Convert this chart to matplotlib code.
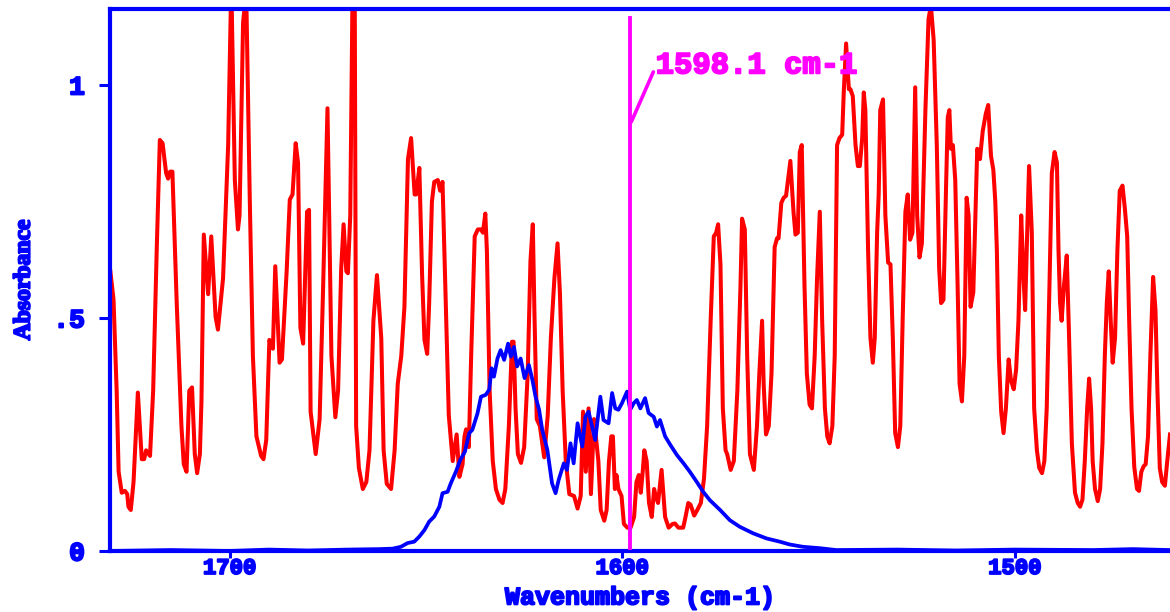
import matplotlib
matplotlib.use('Agg')
import matplotlib.pyplot as plt
import matplotlib.patheffects as pe

# ============================================================
# Style
# ============================================================
plt.rcParams.update({
    'font.family': 'Liberation Mono',
    'font.weight': 'bold',
    'axes.linewidth': 3.0,
})

COR_EIXO = '#0000ff'
COR_AGUA = '#ff0000'
COR_BANDA = '#0000ff'
COR_CURSOR = '#ff00ff'

# ============================================================
# Data (wavenumber in cm-1, absorbance)
# ============================================================
agua_wn = [
    1730.4, 1729.6, 1728.8, 1728.3, 1727.5, 1726.7, 1726.1, 1725.8, 1725.2, 1724.5,
    1723.4, 1722.4, 1721.8, 1721.3, 1720.3, 1719.5, 1718.6, 1717.8, 1717.1, 1716.2,
    1715.7, 1715.2, 1714.6, 1713.5, 1712.3, 1711.7, 1711.0, 1710.3, 1709.6, 1708.9,
    1708.3, 1707.6, 1707.2, 1706.6, 1705.5, 1704.7, 1703.6, 1703.0, 1701.7, 1700.4,
    1699.6, 1698.7, 1697.9, 1697.5, 1696.6, 1695.8, 1694.9, 1694.1, 1693.2, 1692.0,
    1691.4, 1690.7, 1689.9, 1689.0, 1688.4, 1687.3, 1686.7, 1685.5, 1684.7, 1684.0,
    1683.2, 1682.6, 1682.0, 1681.3, 1680.6, 1680.3, 1679.8, 1679.4, 1678.1, 1677.1,
    1676.2, 1675.1, 1674.1, 1673.1, 1672.4, 1671.6, 1671.0, 1670.3, 1669.9, 1669.3,
    1668.6, 1668.2, 1667.8, 1667.1, 1666.1, 1665.2, 1664.4, 1663.4, 1662.5, 1661.4,
    1660.8, 1660.0, 1658.9, 1658.0, 1657.2, 1656.3, 1655.5, 1654.6, 1653.8, 1652.9,
    1652.5, 1651.7, 1651.0, 1650.4, 1649.7, 1649.2, 1648.5, 1647.9, 1647.0, 1646.4,
    1645.8, 1645.1, 1644.2, 1643.2, 1642.2, 1641.5, 1640.7, 1640.2, 1639.8, 1639.1,
    1638.5, 1637.6, 1636.8, 1636.0, 1635.5, 1634.9, 1634.5, 1633.8, 1633.0, 1632.2,
    1631.3, 1630.5, 1629.8, 1628.9, 1628.1, 1627.7, 1627.2, 1626.6, 1625.8, 1625.0,
    1624.1, 1623.4, 1622.8, 1622.4, 1621.8, 1621.0, 1619.9, 1619.0, 1618.2, 1617.3,
    1616.5, 1615.9, 1615.2, 1614.4, 1613.5, 1612.3, 1611.4, 1610.6, 1610.0, 1609.3,
    1608.6, 1608.0, 1607.2, 1606.1, 1605.5, 1604.6, 1604.0, 1603.4, 1602.8, 1602.4,
    1601.9, 1601.5, 1601.0, 1600.2, 1599.6, 1598.7, 1597.9, 1597.0, 1596.4, 1595.8,
    1595.3, 1594.8, 1594.4, 1593.8, 1593.2, 1592.5, 1591.9, 1591.5, 1590.9, 1590.0,
    1589.1, 1588.2, 1587.2, 1586.6, 1585.7, 1584.5, 1584.0, 1583.2, 1582.6, 1581.7,
    1580.9, 1580.0, 1579.2, 1578.4, 1577.5, 1576.7, 1576.1, 1575.6, 1575.0, 1574.4,
    1573.7, 1573.3, 1572.4, 1571.6, 1570.7, 1569.9, 1569.5, 1568.8, 1568.2, 1567.5,
    1566.5, 1565.7, 1565.1, 1564.4, 1564.0, 1563.4, 1562.7, 1562.0, 1561.2, 1560.6,
    1560.2, 1559.5, 1558.9, 1558.3, 1557.2, 1556.4, 1555.9, 1555.3, 1554.8, 1554.3,
    1553.6, 1553.0, 1552.3, 1551.7, 1551.0, 1550.4, 1549.7, 1549.1, 1548.4, 1547.8,
    1547.2, 1546.5, 1545.9, 1545.3, 1544.7, 1544.0, 1543.6, 1543.0, 1542.3, 1541.9,
    1541.3, 1540.6, 1540.0, 1539.5, 1538.9, 1538.5, 1538.1, 1537.4, 1536.8, 1536.2,
    1535.7, 1535.1, 1534.7, 1534.3, 1533.6, 1533.0, 1532.3, 1531.7, 1531.1, 1530.5,
    1529.8, 1529.2, 1528.6, 1527.9, 1527.3, 1526.7, 1526.1, 1525.4, 1524.9, 1524.3,
    1523.7, 1522.8, 1522.0, 1521.4, 1520.7, 1519.9, 1519.3, 1518.8, 1518.2, 1517.5,
    1517.1, 1516.7, 1516.3, 1515.8, 1515.2, 1514.6, 1514.1, 1513.5, 1512.9, 1512.3,
    1511.8, 1511.3, 1510.6, 1509.6, 1508.9, 1508.2, 1507.4, 1506.8, 1506.1, 1505.5,
    1505.0, 1504.6, 1504.1, 1503.5, 1502.9, 1502.3, 1501.6, 1501.0, 1500.3, 1499.7,
    1499.1, 1498.4, 1497.8, 1497.4, 1497.0, 1496.4, 1495.7, 1495.1, 1494.4, 1493.8,
    1493.1, 1492.5, 1491.9, 1491.2, 1490.6, 1489.9, 1489.3, 1488.9, 1488.5, 1488.1,
    1487.5, 1486.8, 1486.2, 1485.5, 1484.7, 1484.0, 1483.4, 1482.8, 1482.2, 1481.6,
    1481.1, 1480.6, 1480.2, 1479.6, 1478.9, 1478.3, 1477.7, 1477.1, 1476.6, 1476.1,
    1475.6, 1475.1, 1474.5, 1473.9, 1473.3, 1472.6, 1472.0, 1471.4, 1470.9, 1470.3,
    1469.6, 1468.9, 1468.4, 1467.8, 1467.2, 1466.7, 1466.1, 1465.5, 1464.8, 1464.2,
    1463.7, 1463.1, 1462.5, 1461.8, 1461.2, 1460.5,
]
agua_abs = [
    0.600, 0.540, 0.344, 0.170, 0.125, 0.129, 0.122, 0.095, 0.088, 0.148,
    0.340, 0.197, 0.197, 0.216, 0.204, 0.344, 0.645, 0.882, 0.875, 0.811,
    0.799, 0.814, 0.814, 0.532, 0.268, 0.186, 0.170, 0.344, 0.351, 0.208,
    0.167, 0.208, 0.321, 0.679, 0.551, 0.675, 0.502, 0.475, 0.585, 0.871,
    1.220, 0.796, 0.690, 0.720, 1.134, 1.200, 0.758, 0.419, 0.246, 0.204,
    0.197, 0.238, 0.453, 0.434, 0.611, 0.404, 0.411, 0.600, 0.754, 0.765,
    0.875, 0.833, 0.479, 0.445, 0.645, 0.728, 0.732, 0.299, 0.208, 0.283,
    0.570, 0.950, 0.419, 0.287, 0.344, 0.607, 0.701, 0.600, 0.596, 0.720,
    1.300, 1.300, 0.268, 0.178, 0.133, 0.148, 0.216, 0.494, 0.592, 0.457,
    0.216, 0.144, 0.133, 0.216, 0.359, 0.419, 0.524, 0.841, 0.886, 0.765,
    0.765, 0.822, 0.592, 0.453, 0.423, 0.532, 0.750, 0.792, 0.796, 0.773,
    0.792, 0.570, 0.291, 0.193, 0.250, 0.159, 0.186, 0.246, 0.261, 0.223,
    0.419, 0.675, 0.690, 0.690, 0.683, 0.724, 0.645, 0.344, 0.193, 0.133,
    0.110, 0.103, 0.133, 0.268, 0.449, 0.449, 0.306, 0.208, 0.189, 0.223,
    0.381, 0.622, 0.701, 0.517, 0.283, 0.268, 0.201, 0.291, 0.457, 0.585,
    0.660, 0.555, 0.344, 0.193, 0.122, 0.118, 0.091, 0.118, 0.299, 0.170,
    0.306, 0.122, 0.283, 0.193, 0.088, 0.065, 0.088, 0.193, 0.246, 0.246,
    0.133, 0.163, 0.133, 0.118, 0.058, 0.050, 0.050, 0.073, 0.148, 0.163,
    0.125, 0.170, 0.216, 0.193, 0.103, 0.073, 0.133, 0.118, 0.103, 0.174,
    0.073, 0.050, 0.058, 0.059, 0.050, 0.050, 0.069, 0.103, 0.099, 0.076,
    0.088, 0.103, 0.155, 0.268, 0.494, 0.675, 0.683, 0.701, 0.615, 0.306,
    0.216, 0.208, 0.174, 0.193, 0.344, 0.570, 0.713, 0.690, 0.419, 0.208,
    0.174, 0.268, 0.381, 0.494, 0.359, 0.250, 0.268, 0.381, 0.652, 0.671,
    0.671, 0.747, 0.758, 0.762, 0.837, 0.728, 0.679, 0.683, 0.856, 0.871,
    0.570, 0.381, 0.314, 0.306, 0.419, 0.585, 0.728, 0.494, 0.306, 0.246,
    0.231, 0.268, 0.419, 0.871, 0.886, 0.893, 0.984, 1.089, 0.991, 0.991,
    0.976, 0.871, 0.826, 0.826, 0.886, 0.984, 0.946, 0.645, 0.457, 0.404,
    0.457, 0.683, 0.765, 0.946, 0.969, 0.720, 0.619, 0.615, 0.457, 0.253,
    0.223, 0.268, 0.494, 0.728, 0.765, 0.668, 0.683, 0.995, 0.720, 0.630,
    0.660, 0.946, 1.142, 1.170, 1.097, 0.871, 0.607, 0.532, 0.539, 0.796,
    0.931, 0.946, 0.863, 0.871, 0.796, 0.570, 0.359, 0.321, 0.419, 0.758,
    0.720, 0.524, 0.555, 0.863, 0.841, 0.901, 0.939, 0.957, 0.848, 0.818,
    0.750, 0.645, 0.419, 0.299, 0.253, 0.306, 0.411, 0.366, 0.347, 0.389,
    0.494, 0.720, 0.585, 0.517, 0.645, 0.826, 0.683, 0.306, 0.216, 0.178,
    0.167, 0.193, 0.306, 0.570, 0.811, 0.856, 0.833, 0.645, 0.532, 0.494,
    0.570, 0.634, 0.457, 0.231, 0.125, 0.103, 0.095, 0.110, 0.193, 0.306,
    0.370, 0.306, 0.193, 0.133, 0.107, 0.133, 0.231, 0.419, 0.532, 0.600,
    0.494, 0.404, 0.457, 0.645, 0.773, 0.784, 0.735, 0.675, 0.494, 0.306,
    0.180, 0.133, 0.129, 0.170, 0.182, 0.186, 0.246, 0.419, 0.588, 0.517,
    0.344, 0.178, 0.148, 0.140, 0.193, 0.250,
]

banda_wn = [
    1730.5, 1715.0, 1700.0, 1690.0, 1680.0, 1670.0, 1662.0, 1658.5, 1656.4, 1654.7,
    1653.0, 1651.7, 1650.4, 1649.2, 1647.9, 1646.6, 1645.8, 1644.5, 1643.7, 1642.4,
    1641.3, 1640.1, 1639.0, 1638.2, 1636.9, 1636.0, 1634.8, 1633.9, 1633.3, 1632.7,
    1631.8, 1631.0, 1630.1, 1629.1, 1628.4, 1627.6, 1626.8, 1625.9, 1624.9, 1623.8,
    1622.9, 1622.1, 1621.2, 1620.4, 1619.1, 1617.9, 1617.0, 1616.2, 1614.9, 1614.1,
    1613.2, 1612.4, 1611.4, 1610.2, 1609.4, 1608.6, 1607.7, 1606.9, 1605.6, 1604.8,
    1603.5, 1602.6, 1601.8, 1601.0, 1600.1, 1598.8, 1598.0, 1597.1, 1596.3, 1595.4,
    1594.2, 1593.3, 1592.0, 1591.2, 1590.4, 1589.1, 1587.8, 1586.1, 1584.4, 1582.8,
    1581.1, 1579.4, 1577.7, 1575.1, 1572.6, 1570.1, 1566.7, 1563.3, 1559.9, 1557.4,
    1554.0, 1549.7, 1545.5, 1530.0, 1515.0, 1500.0, 1480.0, 1470.0, 1460.5,
]
banda_abs = [
    0.000, 0.002, 0.000, 0.003, 0.001, 0.003, 0.004, 0.005, 0.009, 0.017,
    0.020, 0.031, 0.045, 0.063, 0.074, 0.095, 0.124, 0.127, 0.145, 0.170,
    0.195, 0.213, 0.253, 0.260, 0.295, 0.331, 0.335, 0.346, 0.392, 0.374,
    0.413, 0.431, 0.410, 0.445, 0.417, 0.438, 0.396, 0.413, 0.371, 0.399,
    0.367, 0.331, 0.303, 0.260, 0.217, 0.145, 0.124, 0.153, 0.188, 0.174,
    0.231, 0.188, 0.274, 0.224, 0.288, 0.299, 0.267, 0.238, 0.331, 0.281,
    0.274, 0.339, 0.306, 0.303, 0.317, 0.342, 0.303, 0.317, 0.324, 0.306,
    0.328, 0.296, 0.288, 0.267, 0.281, 0.246, 0.228, 0.206, 0.188, 0.170,
    0.149, 0.127, 0.109, 0.088, 0.066, 0.052, 0.038, 0.027, 0.020, 0.014,
    0.009, 0.006, 0.002, 0.003, 0.001, 0.003, 0.002, 0.004, 0.002,
]

cursor_wn = 1598.1
cursor_texto = '1598.1 cm-1'

x_ticks = [1700, 1600, 1500]
y_ticks = [0, 0.5, 1]
y_tick_labels = ['0', '.5', '1']

# ============================================================
# Figure
# ============================================================
fig = plt.figure(figsize=(11.7, 6.12), dpi=100)
ax = fig.add_axes([0.094, 0.0997, 0.906, 0.8856])

ax.plot(agua_wn, agua_abs, color=COR_AGUA, lw=2.9, zorder=2)
ax.plot(banda_wn, banda_abs, color=COR_BANDA, lw=2.7, zorder=3)

# cursor line with its label
ax.plot([cursor_wn, cursor_wn], [0.006, 1.144], color=COR_CURSOR, lw=2.8, zorder=4)
ax.plot([1597.7, 1592.1], [0.921, 1.028], color=COR_CURSOR, lw=2.6,
        solid_capstyle='round', zorder=4)
contorno = [pe.withStroke(linewidth=1.4, foreground=COR_CURSOR)]
ax.text(1591.5, 1.025, cursor_texto, color=COR_CURSOR, fontsize=22,
        fontweight='bold', ha='left', va='baseline', path_effects=contorno)

ax.set_xlim(1730.5, 1460.5)
ax.set_ylim(0, 1.163)

ax.spines['right'].set_visible(False)
for lado in ['left', 'top', 'bottom']:
    ax.spines[lado].set_color(COR_EIXO)

ax.set_xticks(x_ticks)
ax.set_xticklabels([str(t) for t in x_ticks])
ax.set_yticks(y_ticks)
ax.set_yticklabels(y_tick_labels)
ax.tick_params(axis='both', colors=COR_EIXO, width=2.2, direction='out')
ax.tick_params(axis='y', length=8, pad=10, labelsize=19)
ax.tick_params(axis='x', length=5, pad=0, labelsize=16)

contorno_eixo = [pe.withStroke(linewidth=1.4, foreground=COR_EIXO)]
for lbl in ax.get_xticklabels() + ax.get_yticklabels():
    lbl.set_fontweight('bold')
    lbl.set_path_effects(contorno_eixo)

ax.set_xlabel('Wavenumbers (cm-1)', color=COR_EIXO, fontsize=18,
              fontweight='bold', path_effects=contorno_eixo)
ax.xaxis.set_label_coords(0.5, -0.0985)
ax.xaxis.label.set_verticalalignment('baseline')

ax.set_ylabel('Absorbance', color=COR_EIXO, fontsize=17, fontweight='bold',
              family='Liberation Serif', path_effects=contorno_eixo)
ax.yaxis.set_label_coords(-0.081, 0.5)
ax.yaxis.label.set_verticalalignment('center')

fig.savefig('out.png', dpi=100)
